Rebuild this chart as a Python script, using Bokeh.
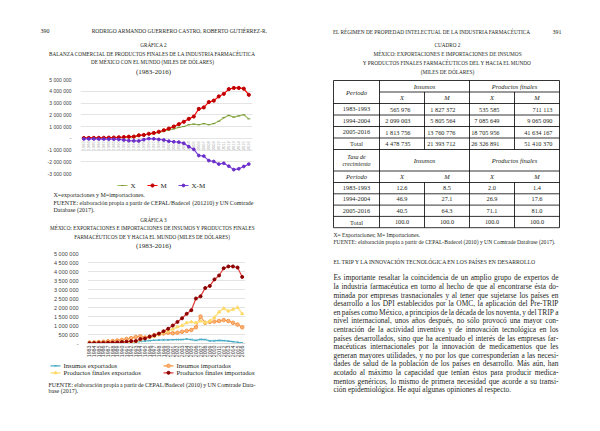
import math
import unicodedata
from bokeh.plotting import figure
from bokeh.models import Range1d, FixedTicker, CustomJSTickFormatter, GridBox
from bokeh.embed import file_html
from bokeh.resources import INLINE
from bokeh.core.properties import value

SERIF = "Liberation Serif"
SANS = "Liberation Sans"
INK = "#231f20"

# ---------------- data ----------------
years = list(range(1983, 2017))
year_labels = [str(y) for y in years]

# Productos finales exportados (X)
pf_exp = [15000, 18000, 20000, 25000, 30000, 35000, 45000, 60000, 75000, 95000, 118000,
          200000, 300000, 350000, 400000, 500000, 600000, 700000, 800000, 920000, 1000000, 1150000,
          1200000, 1150000, 1250000, 1150000, 1250000, 1450000, 1750000, 1950000, 1800000, 1900000, 2000000, 1650000]
# Productos finales importados (M)
pf_imp = [20000, 25000, 30000, 35000, 40000, 50000, 60000, 80000, 100000, 130000, 140000,
          250000, 280000, 380000, 450000, 550000, 680000, 820000, 1000000, 1200000, 1400000, 1650000,
          1850000, 2500000, 2620000, 3080000, 3200000, 3560000, 3780000, 4180000, 4280000, 4280000, 4220000, 3700000]
# Balanza X-M
pf_bal = [-60000, -60000, -60000, -70000, -70000, -80000, -80000, -100000, -150000, -200000, -220000,
          -230000, -120000, -30000, -50000, -100000, -150000, -250000, -300000, -330000, -430000, -720000,
          -950000, -1470000, -1520000, -1900000, -1980000, -2200000, -2130000, -2380000, -2670000, -2600000, -2400000, -2200000]
# Insumos exportados / importados
ins_exp = [30000, 35000, 40000, 45000, 45000, 50000, 55000, 60000, 65000, 70000, 71000,
           120000, 140000, 160000, 180000, 190000, 200000, 200000, 210000, 220000, 220000, 250000,
           220000, 170000, 230000, 220000, 150000, 150000, 170000, 160000, 130000, 100000, 70000, 40000]
ins_imp = [50000, 60000, 80000, 100000, 120000, 140000, 170000, 200000, 250000, 300000, 360000,
           400000, 330000, 380000, 470000, 520000, 560000, 600000, 570000, 600000, 650000, 700000,
           750000, 900000, 1500000, 1150000, 1200000, 1220000, 1250000, 1300000, 1250000, 1150000, 1050000, 900000]

c1_ticks = [-3000000, -2000000, -1000000, 0, 1000000, 2000000, 3000000, 4000000, 5000000]
c2_ticks = [0, 500000, 1000000, 1500000, 2000000, 2500000, 3000000, 3500000, 4000000, 4500000, 5000000]

c1_names = ["X", "M", "X-M"]
c2_names = ["Insumos exportados", "Insumos importados",
            "Productos finales exportados", "Productos finales importados"]

# Cuadro 2
periods = ["1983-1993", "1994-2004", "2005-2016", "Total"]
tab_ins_x = [565976, 2099003, 1813756, 4478735]
tab_ins_m = [1827372, 5805564, 13760776, 21393712]
tab_pf_x = [535585, 7085649, 18705956, 26326891]
tab_pf_m = [711113, 9065090, 41634167, 51410370]
pct_ins_x = [12.6, 46.9, 40.5, 100.0]
pct_ins_m = [8.5, 27.1, 64.3, 100.0]
pct_pf_x = [2.0, 26.9, 71.1, 100.0]
pct_pf_m = [1.4, 17.6, 81.0, 100.0]

paragraph = [
    "Es importante resaltar la coincidencia de un amplio grupo de expertos de",
    "la industria farmacéutica en torno al hecho de que al encontrarse ésta do-",
    "minada por empresas trasnacionales y al tener que sujetarse los países en",
    "desarrollo a los DPI establecidos por la OMC, la aplicación del Pre-TRIP",
    "en países como México, a principios de la década de los noventa, y del TRIP a",
    "nivel internacional, unos años después, no sólo provocó una mayor con-",
    "centración de la actividad inventiva y de innovación tecnológica en los",
    "países desarrollados, sino que ha acentuado el interés de las empresas far-",
    "macéuticas internacionales por la innovación de medicamentos que les",
    "generan mayores utilidades, y no por los que corresponderían a las necesi-",
    "dades de salud de la población de los países en desarrollo. Más aún, han",
    "acotado al máximo la capacidad que tenían éstos para producir medica-",
    "mentos genéricos, lo mismo de primera necesidad que acorde a su transi-",
    "ción epidemiológica. He aquí algunas opiniones al respecto.",
]

# series styles: (line colour, line width, marker, marker size, fill, marker line)
ST_X = ("#9bbb59", 1.2, "dash", 3, "#77933c", "#77933c")
ST_M = ("#ff0000", 1.2, "circle", 3.2, "#c00000", "#c00000")
ST_XM = ("#7f3fdf", 1.2, "circle", 2.8, "#6a2fc8", "#6a2fc8")
ST_IE = ("#4bacc6", 1.2, "x", 2.5, "#4bacc6", "#4bacc6")
ST_II = ("#f79646", 1.2, "circle", 3.5, "#fab27a", "#f79646")
ST_PE = ("#ffe699", 1.8, "triangle", 3, "#ffd966", "#ffd966")
ST_PI = ("#e03c3c", 1.2, "circle", 3, "#8b0000", "#8b0000")

# Times-compatible advance widths (1/1000 em) used to justify lines
_LOW = dict(zip("abcdefghijklmnopqrstuvwxyz",
                [444, 500, 444, 500, 444, 333, 500, 500, 278, 278, 500, 278, 778,
                 500, 500, 500, 500, 333, 389, 278, 500, 500, 722, 500, 500, 444]))
_UP = dict(zip("ABCDEFGHIJKLMNOPQRSTUVWXYZ",
               [722, 667, 667, 722, 611, 556, 722, 722, 333, 389, 722, 611, 889,
                722, 722, 556, 722, 667, 556, 611, 722, 722, 944, 722, 722, 611]))
_OTH = {" ": 250, ",": 250, ".": 250, "-": 333, ":": 278, ";": 278, "(": 333, ")": 333,
        "/": 278, "=": 564}


def tw(s, size):
    tot = 0
    for ch in s:
        b = unicodedata.normalize("NFD", ch)[0]
        if b in _LOW:
            tot += _LOW[b]
        elif b in _UP:
            tot += _UP[b]
        elif b.isdigit():
            tot += 500
        else:
            tot += _OTH.get(b, 500)
    return tot * size / 1000.0


# ---------------- helpers ----------------
def text_fig(w, h):
    p = figure(width=w, height=h, x_range=Range1d(0, w), y_range=Range1d(h, 0),
               output_backend="svg", toolbar_location=None, min_border=0,
               x_axis_location=None, y_axis_location=None, frame_align=False)
    p.xgrid.visible = False
    p.ygrid.visible = False
    p.outline_line_color = None
    return p


def put(p, x, y, s, size=7.0, align="left", font=SERIF, style="normal", color=INK):
    p.text(x=[x], y=[y], text=[s], text_font=value(font), text_font_size=f"{size}px",
           text_align=align, text_baseline="middle", text_font_style=style, text_color=color)


def justify(p, x0, x1, y, line, size, last=False):
    words = line.split(" ")
    if last or len(words) < 2:
        put(p, x0, y, line, size)
        return
    ws = [tw(w, size) for w in words]
    gap = max((x1 - x0 - sum(ws)) / (len(words) - 1), 0.12 * size)
    xs, x = [], x0
    for w in ws:
        xs.append(x)
        x += w + gap
    p.text(x=xs, y=[y] * len(words), text=words, text_font=value(SERIF), text_font_size=f"{size}px",
           text_align="left", text_baseline="middle", text_color=INK)


def fmt(n):
    return f"{n:,}".replace(",", " ")


def series(p, xs, ys, st):
    p.line(xs, ys, line_color=st[0], line_width=st[1])
    p.scatter(xs, ys, marker=st[2], size=st[3], fill_color=st[4], line_color=st[5])


def key(p, x0, x1, y, st, label, size=6.7):
    # legend entry: sample line + marker + label
    p.segment(x0=[x0], y0=[y], x1=[x1], y1=[y], line_color=st[0], line_width=st[1])
    p.scatter(x=[(x0 + x1) / 2], y=[y], marker=st[2], size=st[3], fill_color=st[4], line_color=st[5])
    put(p, x1 + 3, y, label, size)


FMT_JS = r"""
if (Math.abs(tick) < 1) { return "-"; }
var s = Math.abs(Math.round(tick)).toString().replace(/\B(?=(\d{3})+(?!\d))/g, " ");
return (tick < 0 ? "-" : "") + s;
"""


def style_chart(p, ticks, label_size):
    p.outline_line_color = None
    p.yaxis.ticker = FixedTicker(ticks=ticks)
    p.yaxis.formatter = CustomJSTickFormatter(code=FMT_JS)
    p.yaxis.axis_line_color = None
    p.yaxis.major_tick_line_color = None
    p.yaxis.minor_tick_line_color = None
    p.yaxis.major_label_text_font = SANS
    p.yaxis.major_label_text_font_size = f"{label_size}px"
    p.yaxis.major_label_text_color = "#404040"
    p.yaxis.major_label_standoff = 3
    p.ygrid.ticker = FixedTicker(ticks=ticks)
    p.ygrid.grid_line_color = "#d9d9d9"
    p.ygrid.grid_line_width = 0.7
    p.xgrid.visible = False


SC = 5.2  # size of small-caps lines

# ---------------- left page ----------------
head1 = text_fig(300, 76)
put(head1, 40, 30, "390", 6)
put(head1, 179, 30, "RODRIGO ARMANDO GUERRERO CASTRO, ROBERTO GUTIÉRREZ-R.", 5.5, "center")
put(head1, 153, 44, "GRÁFICA 2", SC, "center")
put(head1, 152, 53, "BALANZA COMERCIAL DE PRODUCTOS FINALES DE LA INDUSTRIA FARMACÉUTICA", SC, "center")
put(head1, 152, 61.5, "DE MÉXICO CON EL MUNDO (MILES DE DÓLARES)", SC, "center")
put(head1, 153, 71, "(1983-2016)", 7, "center")

c1 = figure(width=300, height=101, x_range=Range1d(1982.34, 2016.74), y_range=Range1d(-3000000, 5000000),
            output_backend="svg", toolbar_location=None, x_axis_location=None, frame_align=False,
            min_border_left=80, min_border_right=48, min_border_top=3, min_border_bottom=4)
style_chart(c1, c1_ticks, 5)
c1.text(x=years, y=[0] * len(years), text=year_labels, angle=math.pi / 2, text_align="right",
        text_baseline="middle", text_font=value(SANS), text_font_size="4px", text_color="#a6a6a6", y_offset=3)
series(c1, years, pf_exp, ST_X)
series(c1, years, pf_imp, ST_M)
series(c1, years, pf_bal, ST_XM)

mid = text_fig(300, 73)
key(mid, 117, 127, 8, ST_X, c1_names[0], 7)
key(mid, 147, 157, 8, ST_M, c1_names[1], 7)
key(mid, 178, 188, 8, ST_XM, c1_names[2], 7)
put(mid, 53, 17, "X=exportaciones y M=importaciones.", 6)
justify(mid, 53, 253, 25, "FUENTE: elaboración propia a partir de CEPAL/Badecel (201210) y UN Comtrade", 6)
justify(mid, 53, 253, 32.5, "Database (2017).", 6, last=True)
put(mid, 153, 42, "GRÁFICA 3", SC, "center")
put(mid, 152, 50.5, "MÉXICO: EXPORTACIONES E IMPORTACIONES DE INSUMOS Y PRODUCTOS FINALES", SC, "center")
put(mid, 152, 59, "FARMACÉUTICOS DE Y HACIA EL MUNDO (MILES DE DÓLARES)", SC, "center")
put(mid, 153, 68, "(1983-2016)", 7, "center")

c2 = figure(width=300, height=110, x_range=Range1d(1982.57, 2016.71), y_range=Range1d(0, 5000000),
            output_backend="svg", toolbar_location=None, frame_align=False,
            min_border_left=87, min_border_right=55, min_border_top=3, min_border_bottom=17)
style_chart(c2, c2_ticks, 5.5)
c2.xaxis.ticker = FixedTicker(ticks=years)
c2.xaxis.major_label_overrides = {y: str(y) for y in years}
c2.xaxis.major_label_orientation = math.pi / 2
c2.xaxis.major_label_text_font = SANS
c2.xaxis.major_label_text_font_size = "5.3px"
c2.xaxis.major_label_text_color = "#404040"
c2.xaxis.major_label_standoff = 2
c2.xaxis.major_tick_out = 0
c2.xaxis.major_tick_in = 0
c2.xaxis.axis_line_color = "#d9d9d9"
c2.xaxis.major_tick_line_color = None
c2.xaxis.minor_tick_line_color = None
series(c2, years, ins_exp, ST_IE)
series(c2, years, ins_imp, ST_II)
series(c2, years, pf_exp, ST_PE)
series(c2, years, pf_imp, ST_PI)

foot = text_fig(300, 71)
key(foot, 50, 60, 5.3, ST_IE, c2_names[0])
key(foot, 163, 173, 5.3, ST_II, c2_names[1])
key(foot, 50, 60, 12.3, ST_PE, c2_names[2])
key(foot, 163, 173, 12.3, ST_PI, c2_names[3])
justify(foot, 48, 255, 24, "FUENTE: elaboración propia a partir de CEPAL/Badecel (2010) y UN Comtrade Data-", 6)
justify(foot, 48, 255, 30.5, "base (2017).", 6, last=True)

# ---------------- right page ----------------
rp = text_fig(300, 431)
put(rp, 131.5, 31, "EL RÉGIMEN DE PROPIEDAD INTELECTUAL DE LA INDUSTRIA FARMACÉUTICA", 5.3, "center")
put(rp, 252, 31, "391", 6)
put(rp, 147, 44, "CUADRO 2", SC, "center")
put(rp, 147, 53, "MÉXICO: EXPORTACIONES E IMPORTACIONES DE INSUMOS", 5.3, "center")
put(rp, 147, 62, "Y PRODUCTOS FINALES FARMACÉUTICOS DEL Y HACIA EL MUNDO", 5.3, "center")
put(rp, 147, 71, "(MILES DE DÓLARES)", 5.3, "center")

cx = [33, 79, 124, 169, 214, 259]
ys = [80, 91.5, 103, 114.5, 126, 137.5, 149, 170.5, 182, 193.3, 204.6, 215.9, 227.2]
LW = 0.8
full = [0, 2, 3, 4, 5, 6, 7, 8, 9, 10, 11, 12]
rp.segment(x0=[cx[0]] * len(full), y0=[ys[i] for i in full], x1=[cx[5]] * len(full),
           y1=[ys[i] for i in full], line_color="black", line_width=LW)
rp.segment(x0=[cx[1]], y0=[ys[1]], x1=[cx[5]], y1=[ys[1]], line_color="black", line_width=LW)
rp.segment(x0=[cx[0], cx[1], cx[3], cx[5]], y0=[ys[0]] * 4, x1=[cx[0], cx[1], cx[3], cx[5]],
           y1=[ys[12]] * 4, line_color="black", line_width=LW)
for a, b in [(1, 6), (8, 12)]:
    rp.segment(x0=[cx[2], cx[4]], y0=[ys[a]] * 2, x1=[cx[2], cx[4]], y1=[ys[b]] * 2,
               line_color="black", line_width=LW)

TS = 6.3
mid_c = [(cx[i] + cx[i + 1]) / 2 for i in range(5)]
put(rp, mid_c[0], (ys[0] + ys[2]) / 2, "Periodo", 6.5, "center", style="italic")
put(rp, (cx[1] + cx[3]) / 2, (ys[0] + ys[1]) / 2, "Insumos", 6.5, "center", style="italic")
put(rp, (cx[3] + cx[5]) / 2, (ys[0] + ys[1]) / 2, "Productos finales", 6.5, "center", style="italic")
for i, lab in enumerate(["X", "M", "X", "M"]):
    put(rp, mid_c[i + 1], (ys[1] + ys[2]) / 2, lab, 6.5, "center", style="italic")
pads = [14, 14, 15, 7]
cols_abs = [tab_ins_x, tab_ins_m, tab_pf_x, tab_pf_m]
for r in range(4):
    yc = (ys[2 + r] + ys[3 + r]) / 2
    put(rp, mid_c[0], yc, periods[r], TS, "center")
    for c in range(4):
        put(rp, cx[c + 2] - pads[c], yc, fmt(cols_abs[c][r]), TS, "right")
put(rp, mid_c[0], (ys[6] + ys[7]) / 2 - 3.3, "Tasa de", 6, "center", style="italic")
put(rp, mid_c[0], (ys[6] + ys[7]) / 2 + 3.3, "crecimiento", 6, "center", style="italic")
put(rp, (cx[1] + cx[3]) / 2, (ys[6] + ys[7]) / 2, "Insumos", 6.5, "center", style="italic")
put(rp, (cx[3] + cx[5]) / 2, (ys[6] + ys[7]) / 2, "Productos finales", 6.5, "center", style="italic")
put(rp, mid_c[0], (ys[7] + ys[8]) / 2, "Periodo", 6.5, "center", style="italic")
for i, lab in enumerate(["X", "M", "X", "M"]):
    put(rp, mid_c[i + 1], (ys[7] + ys[8]) / 2, lab, 6.5, "center", style="italic")
cols_pct = [pct_ins_x, pct_ins_m, pct_pf_x, pct_pf_m]
for r in range(4):
    yc = (ys[8 + r] + ys[9 + r]) / 2
    put(rp, mid_c[0], yc, periods[r], TS, "center")
    for c in range(4):
        put(rp, mid_c[c + 1], yc, f"{cols_pct[c][r]:.1f}", TS, "center")

put(rp, 33, 234, "X= Exportaciones; M= Importaciones.", 5.6)
put(rp, 33, 241, "FUENTE: elaboración propia a partir de CEPAL-Badecel (2010) y UN Comtrade Database (2017).", 5.6)
put(rp, 33, 261, "EL TRIP Y LA INNOVACIÓN TECNOLÓGICA EN LOS PAÍSES EN DESARROLLO", 5.7)
for i, line in enumerate(paragraph):
    justify(rp, 33, 258, 277.3 + 8.6 * i, line, 7.4, last=(i == len(paragraph) - 1))

layout = GridBox(children=[(head1, 0, 0), (c1, 1, 0), (mid, 2, 0), (c2, 3, 0), (foot, 4, 0),
                           (rp, 0, 1, 5, 1)], spacing=0)

open("out.html", "w").write(file_html(layout, INLINE))
